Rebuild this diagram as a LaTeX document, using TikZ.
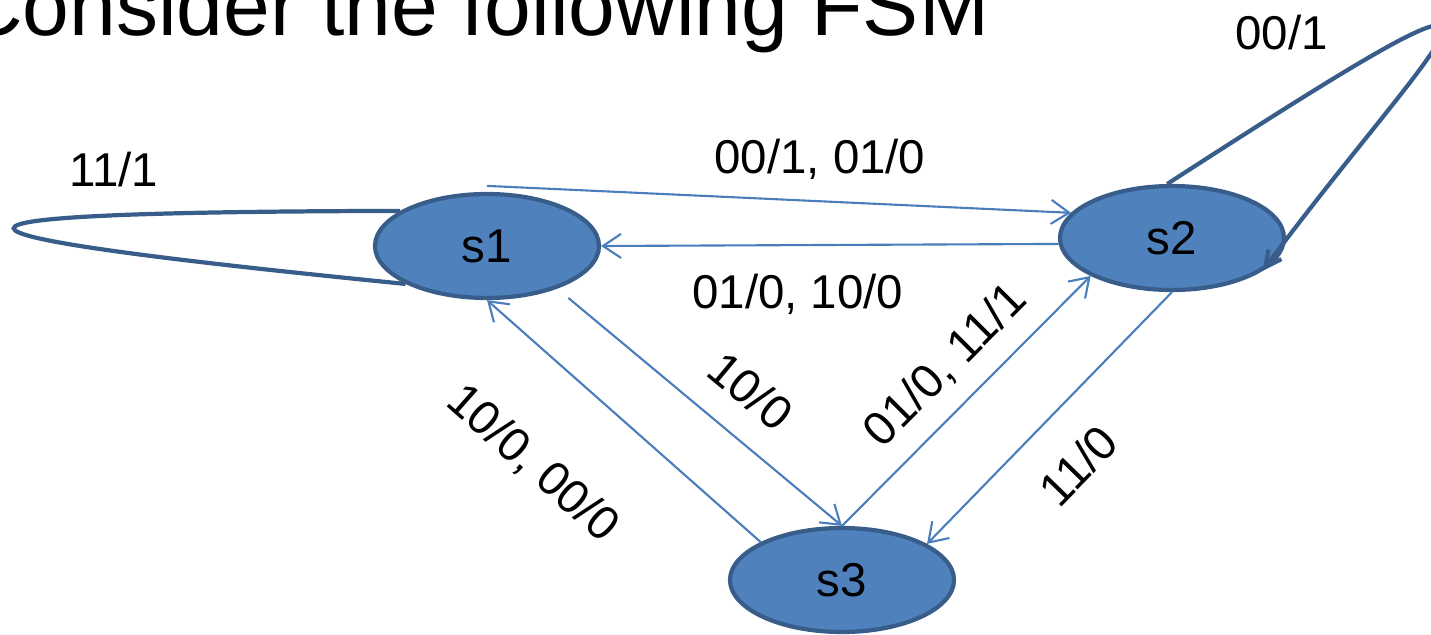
\documentclass[tikz,border=0pt]{standalone}
\usepackage{fontspec}
\setmainfont{Liberation Sans}
\usepackage{tikz}
\usetikzlibrary{positioning,arrows.meta,shapes.geometric}
\usepackage{xcolor}
\definecolor{stfill}{HTML}{4F81BD}
\definecolor{stline}{HTML}{385D8A}
\definecolor{trline}{HTML}{4A7EBB}

\begin{document}
\begin{tikzpicture}[
    state/.style={ellipse, draw=stline, line width=1.2pt, fill=stfill, minimum width=2.24cm, minimum height=1.04cm, inner sep=0pt, font=\fontsize{13.5}{16}\selectfont},
    trans/.style={draw=trline, line width=0.6pt, -{Straight Barb[length=1.8mm, width=2.4mm]}},
    selfloop/.style={draw=stline, line width=1.2pt},
    lbl/.style={font=\fontsize{13.5}{16}\selectfont, inner sep=2pt},
    heading/.style={font=\fontsize{23.9}{28}\selectfont, inner sep=0pt, anchor=base west}
]
\useasboundingbox (0,0) rectangle (14.31,-6.35);

% Title
\node[heading] (title) at (-0.386,-0.35) {Consider the following FSM};

% States
\node[state] (s1) at (4.87,-2.46) {s1};
\node[state] (s2) at (11.72,-2.38) {s2};
\node[state] (s3) at (8.42,-5.80) {s3};

% Transitions
\draw[trans] ([yshift=0.06cm]s1.north) -- (s2.166)
    node[lbl, pos=0.57, above=0.14cm] {00/1, 01/0};
\draw[trans] (s2.183) -- (s1.east)
    node[lbl, pos=0.57, below=0.21cm] {01/0, 10/0};
\draw[trans] ([yshift=-0.14cm]s1.335) -- (s3.north)
    node[lbl, sloped, pos=0.56, above=0.2cm] {10/0};
\draw[trans] (s3.155) -- (s1.south)
    node[lbl, sloped, pos=0.61, below=0.64cm] {10/0, 00/0};
\draw[trans] (s3.north) -- (s2.205)
    node[lbl, sloped, pos=0.53, above=0.11cm] {01/0, 11/1};
\draw[trans] (s2.south) -- (s3.23)
    node[lbl, sloped, pos=0.54, below=0.28cm] {11/0};

% Self loops
\draw[selfloop] (s1.158) .. controls (-1.16,-2.12) and (-1.16,-2.32) .. (s1.205)
    node[lbl, pos=0.245, above=0.19cm] {11/1};
\draw[selfloop, -{Straight Barb[length=1.6mm, width=1.6mm]}] (s2.95) .. controls (15.89,0.89) and (14.46,-0.25) .. (s2.340)
    node[lbl, pos=0.5, left=1.05cm] {00/1};

\end{tikzpicture}
\end{document}
